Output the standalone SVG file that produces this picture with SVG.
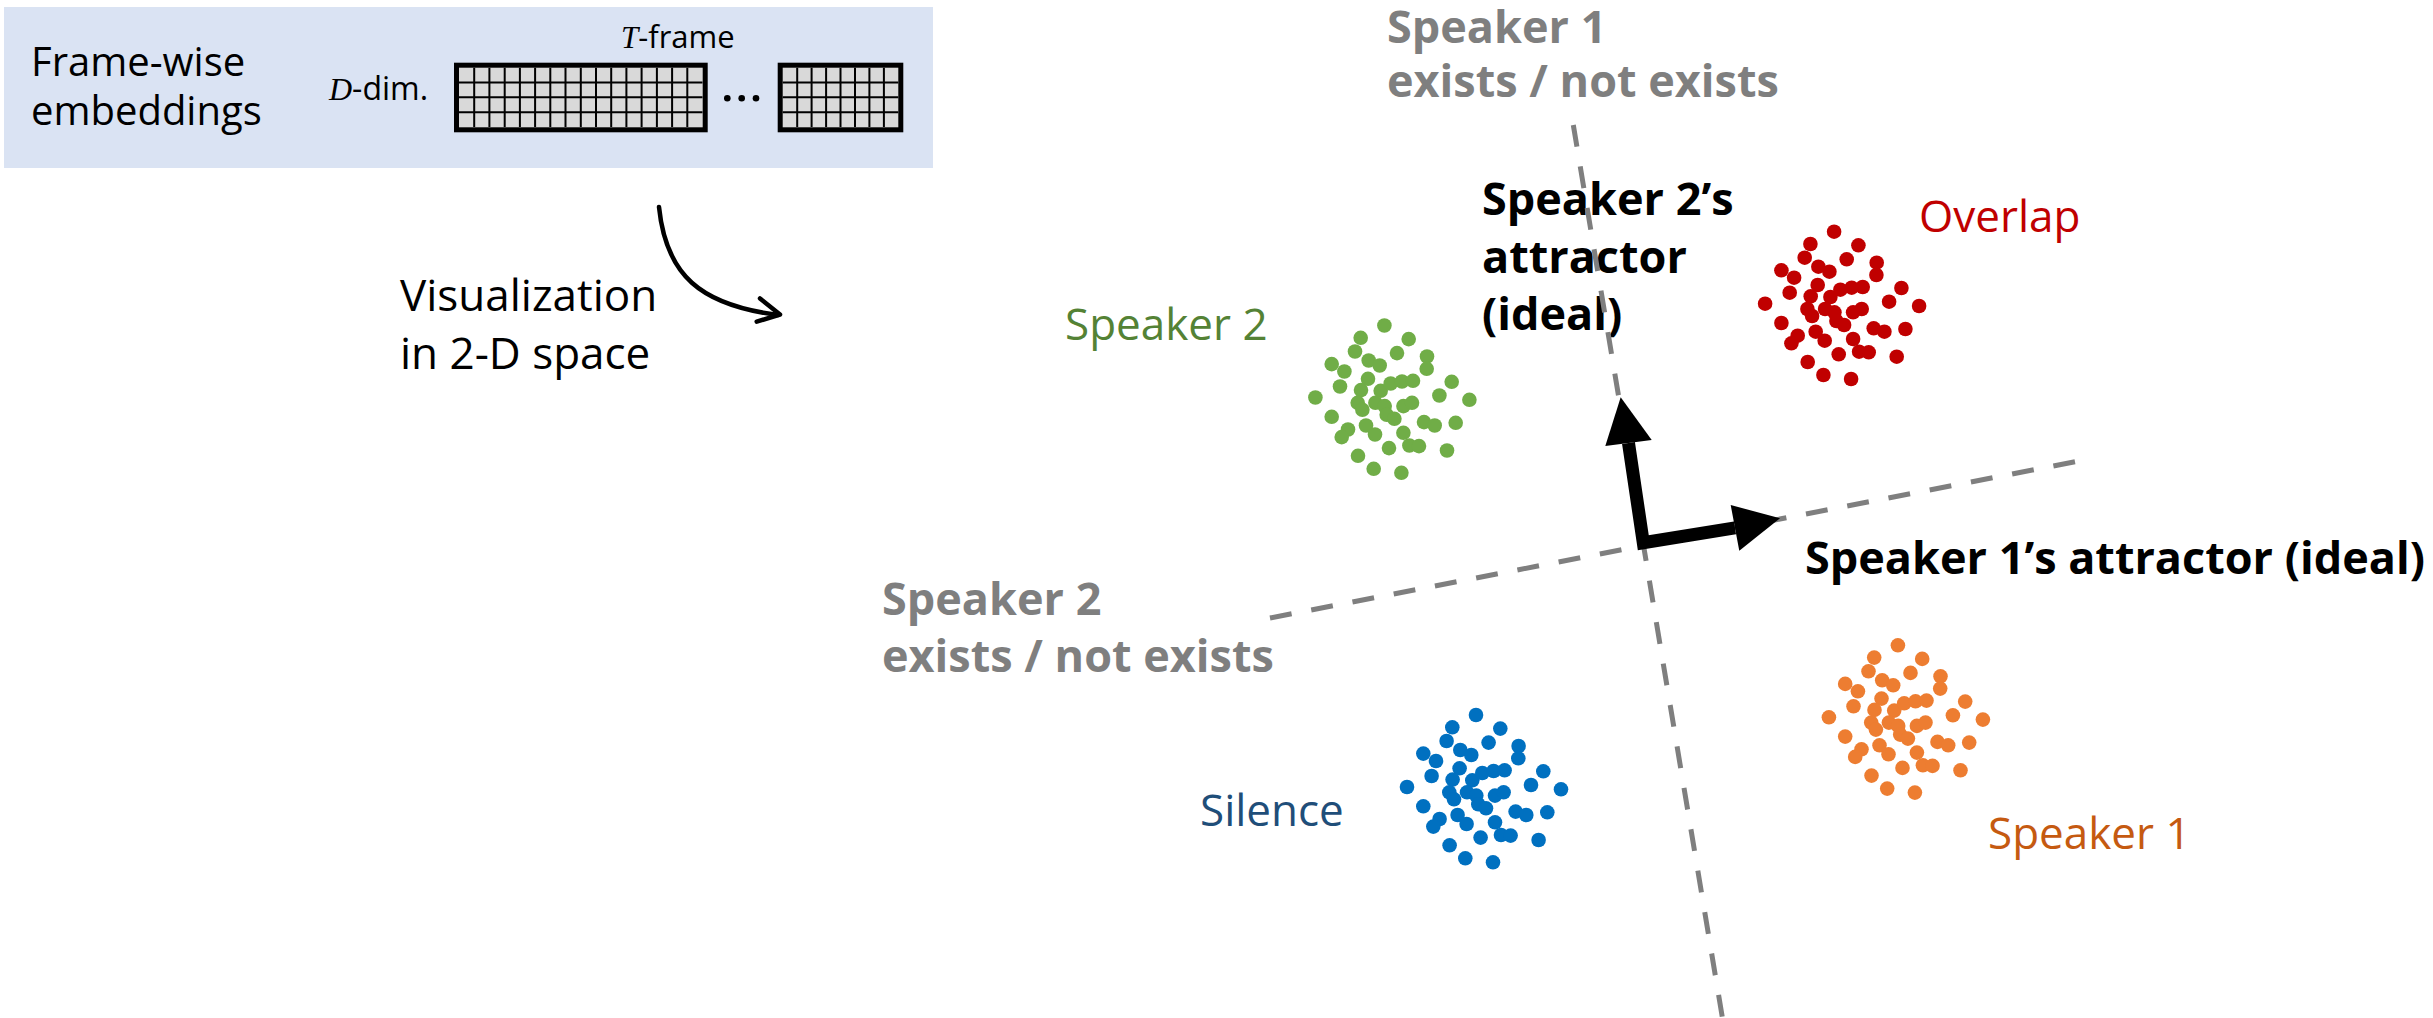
<svg xmlns="http://www.w3.org/2000/svg" width="2433" height="1018" viewBox="0 0 2433 1018">
  <style>
    .txt { font-family: "Open Sans", "Noto Sans", sans-serif; }
    .math { font-family: "Liberation Serif", "DejaVu Serif", serif; font-style: italic; }
    .lbl { font-size: 44px; }
    .bold { font-weight: 700; font-size: 45px; }
    .gray { fill: #7f7f7f; }
    .axis { stroke: #7f7f7f; stroke-width: 5; stroke-dasharray: 22 20; fill: none; }
    .grid-frame { fill: #d9d9d9; stroke: #000; stroke-width: 5; }
    .grid-lines { stroke: #000; stroke-width: 2; fill: none; }
    .vec { stroke: #000; stroke-width: 13; fill: none; stroke-linejoin: miter; }
  </style>
  <defs>
    <!-- one scatter blob, reused for every cluster -->
    <g id="dots">
      <circle cx="-7.3" cy="-73.3" r="7.3"/>
      <circle cx="-31" cy="-61" r="7.3"/>
      <circle cx="17" cy="-59.7" r="7.3"/>
      <circle cx="-36.7" cy="-47.3" r="7.3"/>
      <circle cx="5.3" cy="-45.7" r="7.3"/>
      <circle cx="35.3" cy="-42.3" r="7.3"/>
      <circle cx="-60" cy="-34.7" r="7.3"/>
      <circle cx="-23" cy="-38.3" r="7.3"/>
      <circle cx="-12" cy="-33.3" r="7.3"/>
      <circle cx="35" cy="-30" r="7.3"/>
      <circle cx="-47.3" cy="-27.3" r="7.3"/>
      <circle cx="60" cy="-17" r="7.3"/>
      <circle cx="-23.7" cy="-20" r="7.3"/>
      <circle cx="-51.7" cy="-12.3" r="7.3"/>
      <circle cx="-30.7" cy="-8.7" r="7.3"/>
      <circle cx="-11" cy="-8" r="7.3"/>
      <circle cx="-1" cy="-15.3" r="7.3"/>
      <circle cx="10.3" cy="-17.3" r="7.3"/>
      <circle cx="21.3" cy="-18" r="7.3"/>
      <circle cx="47.7" cy="-3.3" r="7.3"/>
      <circle cx="-76.3" cy="-1.3" r="7.3"/>
      <circle cx="77.7" cy="1" r="7.3"/>
      <circle cx="-34" cy="4" r="7.3"/>
      <circle cx="-16.3" cy="4" r="7.3"/>
      <circle cx="-7" cy="7.3" r="7.3"/>
      <circle cx="-29.3" cy="11" r="7.3"/>
      <circle cx="11.7" cy="7.3" r="7.3"/>
      <circle cx="20.3" cy="4" r="7.3"/>
      <circle cx="-60" cy="18" r="7.3"/>
      <circle cx="-5" cy="16" r="7.3"/>
      <circle cx="2.7" cy="20" r="7.3"/>
      <circle cx="32.3" cy="23.3" r="7.3"/>
      <circle cx="43" cy="26.7" r="7.3"/>
      <circle cx="64" cy="24" r="7.3"/>
      <circle cx="-43.7" cy="30.7" r="7.3"/>
      <circle cx="-50" cy="38.3" r="7.3"/>
      <circle cx="-25.7" cy="26.7" r="7.3"/>
      <circle cx="-16.7" cy="35.7" r="7.3"/>
      <circle cx="11.7" cy="34" r="7.3"/>
      <circle cx="-2.7" cy="49.3" r="7.3"/>
      <circle cx="17.7" cy="46.7" r="7.3"/>
      <circle cx="27.3" cy="47.3" r="7.3"/>
      <circle cx="55.3" cy="51.7" r="7.3"/>
      <circle cx="-33.7" cy="57" r="7.3"/>
      <circle cx="-18" cy="70" r="7.3"/>
      <circle cx="9.7" cy="74" r="7.3"/>
    </g>
  </defs>

  <!-- frame-wise embedding panel -->
  <g id="embeddings">
    <rect x="4" y="7" width="929" height="161" fill="#dae3f3"/>
    <text class="txt" font-size="40"><tspan x="31" y="76">Frame-wise</tspan><tspan x="31" y="125">embeddings</tspan></text>
    <text x="329" y="100" font-size="32"><tspan class="math">D</tspan><tspan class="txt">-dim.</tspan></text>
    <text x="621" y="48" font-size="31"><tspan class="math">T</tspan><tspan class="txt">-frame</tspan></text>
    <!-- first block: 16 x 4 -->
    <rect class="grid-frame" x="456.5" y="65.2" width="248.7" height="64.6"/>
    <path class="grid-lines" d="M474.2 67.7V127M489.4 67.7V127M504.7 67.7V127M519.9 67.7V127M535.1 67.7V127M550.3 67.7V127M565.5 67.7V127M580.8 67.7V127M596 67.7V127M611.2 67.7V127M626.4 67.7V127M641.6 67.7V127M656.9 67.7V127M672.1 67.7V127M687.3 67.7V127M459 82.5H702.5M459 97.3H702.5M459 112.2H702.5"/>
    <!-- ellipsis -->
    <circle cx="727.3" cy="98.3" r="3.3"/>
    <circle cx="741.7" cy="98.3" r="3.3"/>
    <circle cx="756" cy="98.3" r="3.3"/>
    <!-- last block: 8 x 4 -->
    <rect class="grid-frame" x="780.2" y="65.2" width="120.6" height="64.6"/>
    <path class="grid-lines" d="M797.2 67.7V127M811.6 67.7V127M826.1 67.7V127M840.5 67.7V127M855 67.7V127M869.4 67.7V127M883.9 67.7V127M782.7 82.5H898.3M782.7 97.3H898.3M782.7 112.2H898.3"/>
  </g>

  <g id="connectors">
    <path d="M659 207C666 275 700 305 778 315" fill="none" stroke="#000" stroke-width="4.5" stroke-linecap="round"/>
    <path d="M760 298.5L780 314.5L756.7 321.7" fill="none" stroke="#000" stroke-width="4.5" stroke-linecap="round" stroke-linejoin="round"/>
  </g>

  <g id="visualization-label">
    <text class="txt lbl"><tspan x="400" y="311">Visualization</tspan><tspan x="400" y="369">in 2-D space</tspan></text>
  </g>

  <!-- clusters -->
  <g id="speaker2">
    <use href="#dots" x="1391.7" y="398.8" fill="#70ad47"/>
    <text class="txt lbl" x="1065" y="340" fill="#548235">Speaker 2</text>
  </g>
  <g id="overlap">
    <use href="#dots" x="1841.4" y="305" fill="#c00000"/>
    <text class="txt lbl" x="1919" y="232" fill="#c00000">Overlap</text>
  </g>
  <g id="silence">
    <use href="#dots" x="1483.3" y="788.3" fill="#0070c0"/>
    <text class="txt lbl" x="1200" y="826" fill="#1f4e79">Silence</text>
  </g>
  <g id="speaker1">
    <use href="#dots" x="1905.2" y="718.6" fill="#ed7d31"/>
    <text class="txt lbl" x="1988" y="849" fill="#c55a11">Speaker 1</text>
  </g>

  <!-- attractor captions -->
  <g id="attractor2-label">
    <text class="txt bold"><tspan x="1482" y="215">Speaker 2’s</tspan><tspan x="1482" y="273">attractor</tspan><tspan x="1482" y="330">(ideal)</tspan></text>
  </g>
  <g id="attractor1-label">
    <text class="txt bold" x="1805" y="574">Speaker 1’s attractor (ideal)</text>
  </g>

  <!-- decision boundaries -->
  <g id="boundary-speaker1">
    <line class="axis" x1="1573.3" y1="125" x2="1723.6" y2="1025"/>
    <text class="txt bold gray"><tspan x="1387" y="43">Speaker 1</tspan><tspan x="1387" y="97">exists / not exists</tspan></text>
  </g>
  <g id="boundary-speaker2">
    <line class="axis" x1="1270" y1="618" x2="2079" y2="461"/>
    <text class="txt bold gray"><tspan x="882" y="615">Speaker 2</tspan><tspan x="882" y="672">exists / not exists</tspan></text>
  </g>

  <!-- attractor vectors -->
  <g id="attractors">
    <polyline class="vec" points="1628.5,443 1643.3,542.7 1735,527.8"/>
    <polygon points="1620.7,397.3 1605.3,446 1651.7,440"/>
    <polygon points="1780,518.3 1730.7,505 1739.3,550.7"/>
  </g>
</svg>
